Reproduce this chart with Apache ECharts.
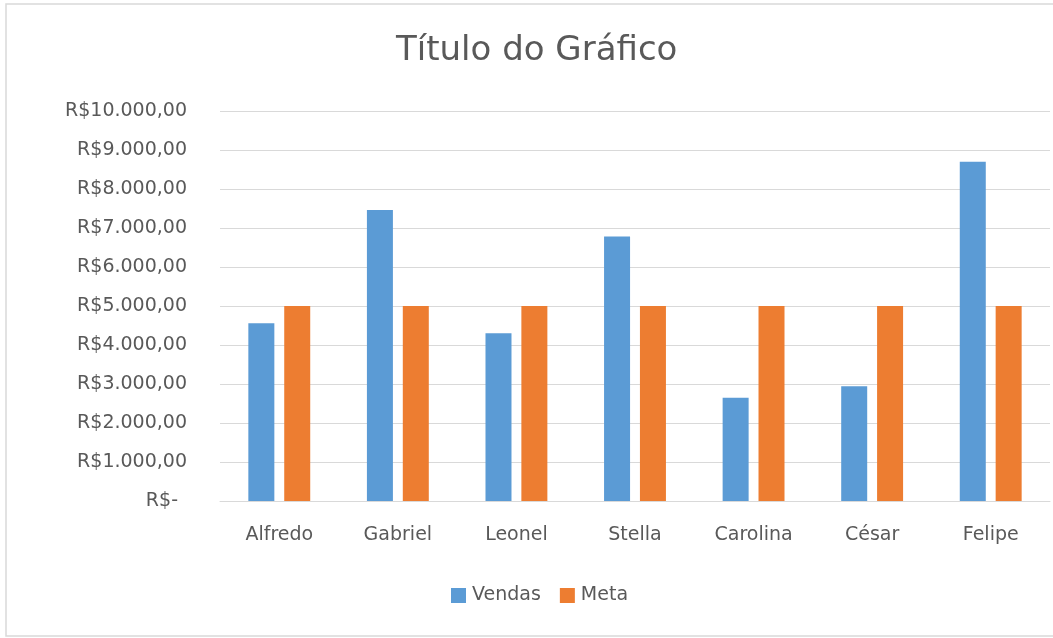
<!DOCTYPE html>
<html>
<head>
<meta charset="utf-8">
<script src="https://cdn.jsdelivr.net/npm/echarts@6/dist/echarts.min.js"></script>
<style>
html,body{margin:0;padding:0;background:#fff;}
#chart{width:1053px;height:638px;}
</style>
</head>
<body>
<div id="chart"></div>
<script>
const titleText = 'Título do Gráfico';
const categories = ['Alfredo', 'Gabriel', 'Leonel', 'Stella', 'Carolina', 'César', 'Felipe'];
const vendas = [4560, 7460, 4300, 6780, 2650, 2940, 8700];
const meta = [5000, 5000, 5000, 5000, 5000, 5000, 5000];
const seriesNames = ['Vendas', 'Meta'];
const yMin = 0, yMax = 10000, yStep = 1000;

function fmtBRL(v) {
  if (v === 0) return '{z|R$-}';
  const s = Math.round(v).toString().replace(/\B(?=(\d{3})+(?!\d))/g, '.');
  return 'R$' + s + ',00';
}

const font = 'DejaVu Sans';
const gray = '#595959';
const chart = echarts.init(document.getElementById('chart'));
chart.setOption({
  animation: false,
  backgroundColor: '#ffffff',
  graphic: [{
    type: 'rect',
    shape: { x: 6, y: 4, width: 1100, height: 632 },
    style: { fill: 'none', stroke: '#D9D9D9', lineWidth: 1.5 },
    silent: true, z: -1
  }],
  title: {
    text: titleText,
    left: 396,
    top: 34,
    padding: 0,
    textStyle: { fontFamily: font, fontSize: 34, fontWeight: 'normal', color: gray }
  },
  legend: {
    data: seriesNames,
    bottom: 33,
    left: 451,
    padding: 0,
    itemWidth: 15,
    itemHeight: 15,
    itemGap: 19,
    icon: 'rect',
    textStyle: { fontFamily: font, fontSize: 19, color: gray, padding: [0, 0, 0, 1] }
  },
  grid: { left: 220, right: 3, top: 111, bottom: 137, containLabel: false },
  xAxis: {
    type: 'category',
    data: categories,
    axisLine: { show: true, lineStyle: { color: '#D9D9D9', width: 1 } },
    axisTick: { show: false },
    axisLabel: { fontFamily: font, fontSize: 19, color: gray, margin: 25 }
  },
  yAxis: {
    type: 'value',
    min: yMin, max: yMax, interval: yStep,
    axisLine: { show: false },
    axisTick: { show: false },
    splitLine: { lineStyle: { color: '#D9D9D9', width: 1 } },
    axisLabel: {
      fontFamily: font, fontSize: 19, color: gray, margin: 33,
      formatter: fmtBRL,
      rich: { z: { fontFamily: font, fontSize: 19, color: gray, padding: [0, 9, 0, 0] } }
    }
  },
  series: [
    { name: seriesNames[0], type: 'bar', data: vendas, barWidth: 26, barGap: '38%', itemStyle: { color: '#5B9BD5' } },
    { name: seriesNames[1], type: 'bar', data: meta, barWidth: 26, barGap: '38%', itemStyle: { color: '#ED7D31' } }
  ]
});
</script>
</body>
</html>
